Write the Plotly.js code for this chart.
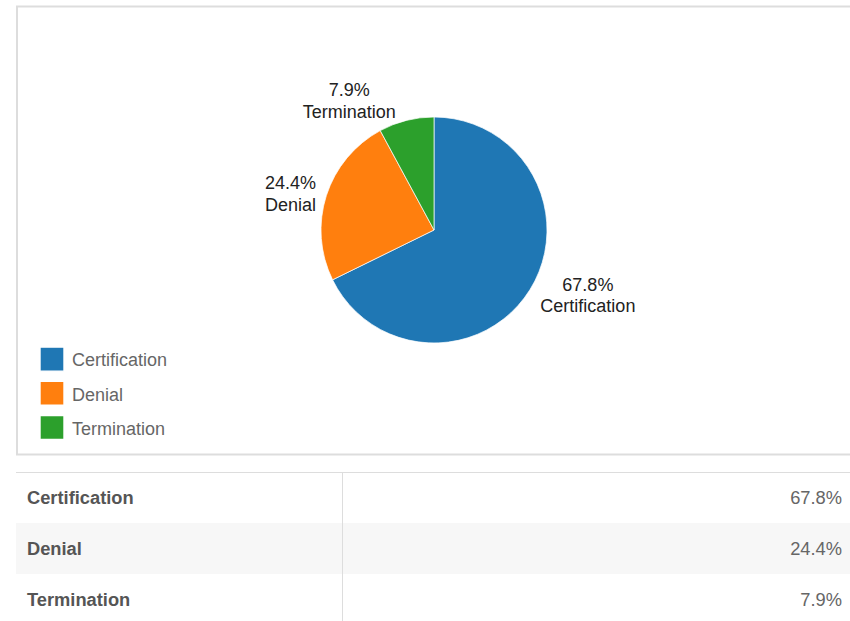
<!DOCTYPE html>
<html>
<head>
<meta charset="utf-8">
<script src="https://cdn.plot.ly/plotly-3.0.1.min.js"></script>
<style>
html,body{margin:0;padding:0;background:#fff;}
#chart{width:850px;height:621px;position:relative;}
.scrollbar-kit{display:none !important;}
</style>
</head>
<body>
<div id="chart"></div>
<script>
// ---- data ----
var categories = ["Certification", "Denial", "Termination"];
var shares = [67.8, 24.4, 7.9];
var sliceColors = ["#1f77b4", "#ff7f0e", "#2ca02c"];
var shareLabels = ["67.8%", "24.4%", "7.9%"];

var W = 850, H = 621;
function px(x){ return x / W; }
function py(y){ return 1 - y / H; }

var FONT = "Liberation Sans, Arial, Helvetica, sans-serif";
var cx = 434, cy = 230, r = 113;

var pie = {
  type: "pie",
  labels: categories.map(function(c){ return '<span style="font-size:18px">' + c + '</span>'; }),
  text: categories,
  values: shares,
  sort: false,
  direction: "clockwise",
  rotation: 0,
  marker: { colors: sliceColors, line: { color: "#ffffff", width: 0.7 } },
  textposition: "outside",
  texttemplate: '<span style="font-size:18px">%{value:.1f}%</span><br><span style="font-size:18px">%{text}</span>',
  textfont: { family: FONT, size: 16.7, color: "#222222" },
  hoverinfo: "none",
  domain: { x: [px(cx - r), px(cx + r)], y: [py(cy + r), py(cy - r)] },
  showlegend: true
};

var rowFills = categories.map(function(_, i){ return i % 2 === 1 ? "#f7f7f7" : "#ffffff"; });
var blanks = categories.map(function(){ return ""; });
var noHeader = { values: [], height: 0, line: { width: 0, color: "rgba(0,0,0,0)" }, fill: { color: "rgba(0,0,0,0)" } };

// table carrying the row backgrounds
var tableFill = {
  type: "table",
  domain: { x: [px(16), 1], y: [0, py(456)] },
  columnwidth: [326, 508],
  header: noHeader,
  cells: {
    values: [blanks, blanks],
    height: 51,
    fill: { color: [rowFills, rowFills] },
    line: { width: 0, color: "rgba(0,0,0,0)" },
    font: { family: FONT, size: 18 }
  }
};

// table carrying the cell texts
var tableText = {
  type: "table",
  domain: { x: [px(19), 1], y: [0, py(462.5)] },
  columnwidth: [323, 508],
  header: noHeader,
  cells: {
    values: [categories.map(function(c){ return "<b>" + c + "</b>"; }),
             shareLabels.map(function(s){ return "<span>" + s + "</span>"; })],
    align: ["left", "right"],
    height: 51,
    fill: { color: "rgba(0,0,0,0)" },
    line: { width: 0, color: "rgba(0,0,0,0)" },
    font: { family: FONT, size: 18.3, color: ["#555555", "#666666"] }
  }
};

var layout = {
  width: W, height: H,
  margin: { l: 0, r: 0, t: 0, b: 0 },
  paper_bgcolor: "#ffffff",
  font: { family: FONT },
  showlegend: true,
  legend: {
    x: px(32), y: py(337), xanchor: "left", yanchor: "top",
    font: { family: FONT, size: 24, color: "#666666" },
    bgcolor: "rgba(0,0,0,0)"
  },
  shapes: [
    { type: "rect", xref: "paper", yref: "paper", x0: px(17), x1: px(860), y0: py(6.5), y1: py(454.5),
      line: { color: "#dddddd", width: 2 }, fillcolor: "rgba(0,0,0,0)" },
    { type: "line", xref: "paper", yref: "paper", x0: px(16), x1: 1, y0: py(472.5), y1: py(472.5),
      line: { color: "#dddddd", width: 1 } },
    { type: "line", xref: "paper", yref: "paper", x0: px(342.5), x1: px(342.5), y0: 0, y1: py(472.5),
      line: { color: "#dddddd", width: 1 } }
  ]
};

Plotly.newPlot("chart", [pie, tableFill, tableText], layout, { staticPlot: true, displayModeBar: false }).then(function(gd){
  gd.querySelectorAll(".legend .legendpoints path").forEach(function(p){
    var t = p.getAttribute("transform") || "";
    p.setAttribute("transform", t + " scale(2)");
  });
  gd.querySelectorAll(".legend text.legendtext").forEach(function(t){
    t.setAttribute("transform", "translate(0,-2)");
  });
});
</script>
</body>
</html>
